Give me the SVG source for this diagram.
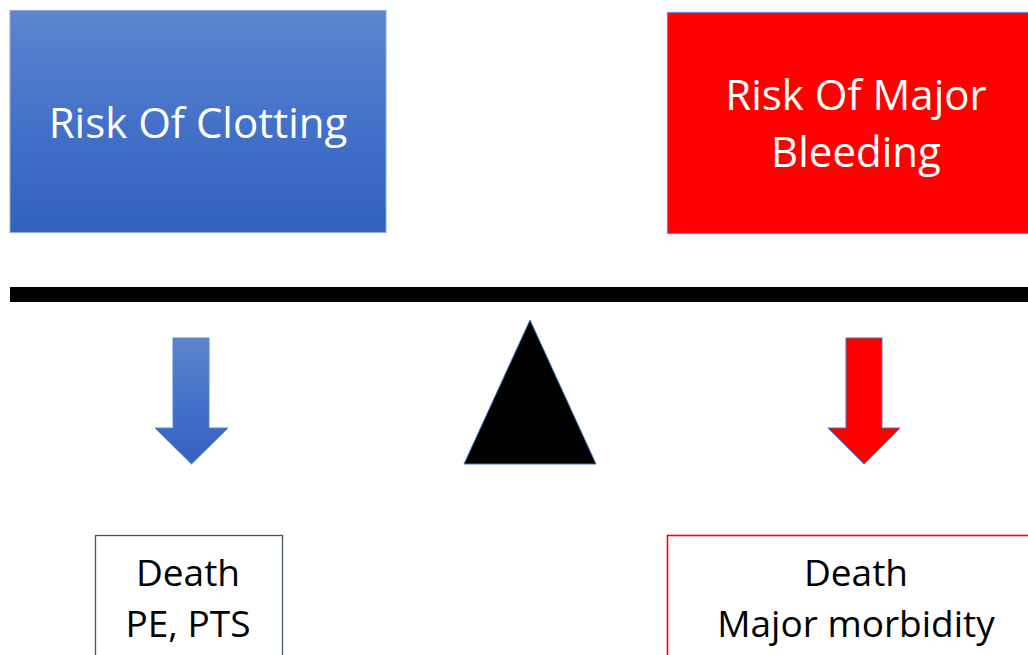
<svg xmlns="http://www.w3.org/2000/svg" width="1028" height="655" viewBox="0 0 1028 655">
  <defs>
    <linearGradient id="blueGrad" x1="0" y1="0" x2="0" y2="1">
      <stop offset="0" stop-color="#5d85cd"/>
      <stop offset="0.5" stop-color="#4472c9"/>
      <stop offset="1" stop-color="#3162bd"/>
    </linearGradient>
    <style>
      .title { font-family: "Open Sans", "Liberation Sans", sans-serif; font-size: 42px; fill: #ffffff; text-anchor: middle; }
      .label { font-family: "Open Sans", "Liberation Sans", sans-serif; font-size: 37px; fill: #000000; text-anchor: middle; }
    </style>
  </defs>
  <rect width="1028" height="655" fill="#ffffff"/>

  <g id="clotting">
    <rect x="10" y="10.5" width="376" height="222" fill="url(#blueGrad)" stroke="#8eaadb" stroke-width="1"/>
    <text class="title" x="198" y="138">Risk Of Clotting</text>
  </g>

  <g id="bleeding">
    <rect x="667.5" y="12.5" width="370" height="221" fill="#ff0000" stroke="#6c8ebf" stroke-width="1.2"/>
    <text class="title" x="856" y="110">Risk Of Major</text>
    <text class="title" x="856" y="167">Bleeding</text>
  </g>

  <g id="beam">
    <rect x="10" y="287" width="1020" height="15" fill="#000000"/>
  </g>

  <g id="fulcrum">
    <polygon points="530,320 596,464 464,464" fill="#000000" stroke="#4472c4" stroke-width="1"/>
  </g>

  <g id="connectors">
    <polygon id="blue-arrow" points="173,338 209,338 209,428 228,428 191.5,464 155,428 173,428" fill="url(#blueGrad)" stroke="#5b84cc" stroke-width="1"/>
    <polygon id="red-arrow" points="846,338 882,338 882,428 900,428 864,464 828,428 846,428" fill="#ff0000" stroke="#4472c4" stroke-width="1"/>
  </g>

  <g id="clotting-outcomes">
    <rect x="95.5" y="535.5" width="187" height="130" fill="#ffffff" stroke="#44546a" stroke-width="1.3"/>
    <text class="label" x="188" y="586">Death</text>
    <text class="label" x="188" y="637">PE, PTS</text>
  </g>

  <g id="bleeding-outcomes">
    <rect x="667.5" y="535.5" width="370" height="130" fill="#ffffff" stroke="#ff0000" stroke-width="1.6"/>
    <text class="label" x="856" y="586">Death</text>
    <text class="label" x="856" y="637">Major morbidity</text>
  </g>
</svg>
